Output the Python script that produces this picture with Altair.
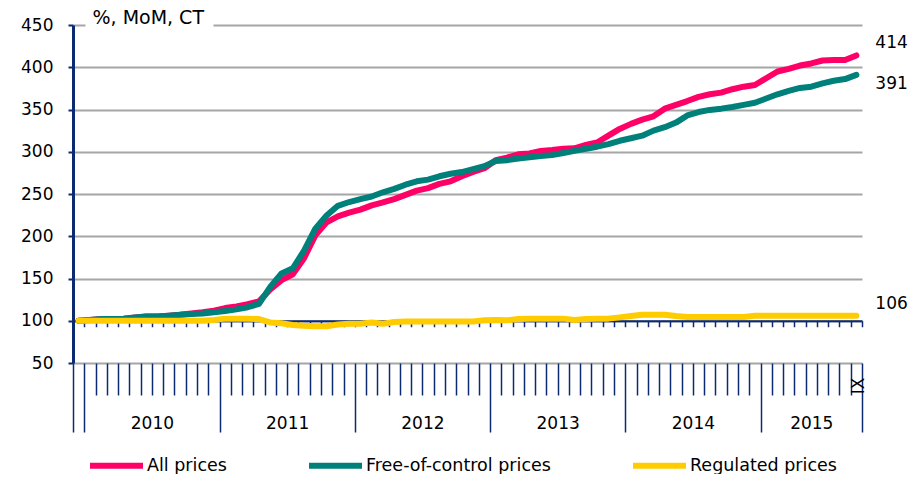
import altair as alt
import pandas as pd

# ---------------- data ----------------
months = ["2009-12"] + [f"{y}-{m:02d}" for y in range(2010, 2016) for m in range(1, 13)]
months = months[:months.index("2015-09") + 1]

all_prices = [100, 101, 102, 102, 102.5, 104, 105, 105, 106, 107, 108.5, 110,
              112, 115, 117, 119.5, 123, 137, 148, 155, 174, 201, 216.5, 223.5,
              228, 231.5, 236.5, 240, 244, 249, 254, 257, 262, 265, 271, 276,
              280.5, 290, 293, 297, 298, 301, 302, 303.5, 304, 308, 311, 319,
              327, 333, 338, 342, 351, 355.5, 360, 365, 368, 370, 374, 377,
              379, 387, 395, 398, 402, 404.5, 408, 408.5, 408.5, 414]

free_prices = [100, 101, 102, 102, 102.5, 104, 105, 105, 106, 107, 108, 108.5,
               110, 111.5, 113.5, 116, 120, 140, 156, 162, 183, 209, 224.5, 236,
               240.5, 244, 247, 252, 256, 261, 265, 267, 271, 274, 276, 279.5,
               283, 289, 290, 292, 293.5, 295, 296, 298.5, 301, 303.5, 306, 309,
               313, 316, 319, 325, 329, 334.5, 343, 347, 349.5, 351, 353, 355.5,
               358, 363, 368, 372, 375.5, 377, 381, 384, 386, 391]

regulated_prices = [100, 100, 100, 100, 100, 100, 100, 100, 100, 100, 100, 100,
                    101, 102.5, 102.5, 102.5, 102, 98, 97, 95, 94, 93.5, 93.5, 95.5,
                    96.5, 96.5, 98, 96.5, 98.5, 99, 99, 99, 99, 99, 99, 99,
                    100.5, 101, 100.5, 102, 102.5, 102.5, 102.5, 102.5, 101, 102, 102.5, 102.5,
                    104, 105.5, 107, 107, 107, 105.5, 104.5, 104.5, 104.5, 104.5, 104.5, 104.5,
                    106, 106, 106, 106, 106, 106, 106, 106, 106, 106]

series_names = ["All prices", "Free-of-control prices", "Regulated prices"]
series_colors = ["#FF0066", "#00807A", "#FFCC00"]
years = ["2010", "2011", "2012", "2013", "2014", "2015"]
last_month_label = "IX"
y_ticks = [50, 100, 150, 200, 250, 300, 350, 400, 450]
y_title = "%, MoM, CT"

# ---------------- tables ----------------
n = len(months)
rows = []
for name, vals in zip(series_names, [all_prices, free_prices, regulated_prices]):
    for i, (m, v) in enumerate(zip(months, vals)):
        rows.append({"month": m, "pos": i + 0.5, "series": name, "value": v})
df = pd.DataFrame(rows)
df_last = df[df["month"] == months[-1]]

year_starts = [months.index(f"{y}-01") for y in years]
year_ends = year_starts[1:] + [n]
year_mids = [(s + e) / 2 for s, e in zip(year_starts, year_ends)]
long_ticks = [0] + year_starts + [n]
year_expr = "".join(f"datum.value == {m} ? '{y}' : " for m, y in zip(year_mids, years)) + "''"

# ---------------- styling ----------------
FONT = "DejaVu Sans"
NAVY = "#0B2A6F"
GRID = "#A6A6A6"
W, H = 789, 338
ymin, ymax = 50, 450
off100 = -H * (100 - ymin) / (ymax - ymin)

xscale = alt.Scale(domain=[0, n], nice=False, zero=False)
yscale = alt.Scale(domain=[ymin, ymax], nice=False, zero=False)
cscale = alt.Scale(domain=series_names, range=series_colors)

legend = alt.Legend(title=None, orient="none", legendX=14, legendY=411,
                    direction="horizontal", columns=3, symbolType="stroke",
                    symbolStrokeWidth=6, symbolSize=2809, labelFontSize=17.5,
                    labelFont=FONT, labelColor="black", labelOffset=1, labelLimit=400,
                    columnPadding=70, padding=0)

y_axis = alt.Axis(values=y_ticks, orient="left", grid=True, gridColor=GRID, gridWidth=2,
                  gridDash={"condition": {"test": f"datum.value === {ymax}", "value": [12, 128, 2000]},
                            "value": []},
                  domainColor=NAVY, domainWidth=3, tickColor=NAVY, tickSize=5, tickWidth=2,
                  labelFontSize=17, labelFont=FONT, labelColor="black", labelPadding=15,
                  title=y_title, titleAngle=0, titleAlign="left", titleBaseline="alphabetic",
                  titleX=19, titleY=-2, titleFontSize=19, titleFont=FONT,
                  titleFontWeight="normal", titleColor="black")

axis_ticks = alt.Axis(values=list(range(0, n + 1)), orient="bottom",
                      tickSize={"condition": {"test": f"indexof({long_ticks}, datum.value) >= 0", "value": 69},
                                "value": 32},
                      tickColor=NAVY, tickWidth=1.5, labels=False, domain=False, grid=False, title=None)

axis_years = alt.Axis(values=year_mids, orient="bottom", ticks=False, tickSize=0, domain=False,
                      grid=False, labelExpr=year_expr, labelFontSize=17, labelFont=FONT,
                      labelColor="black", labelPadding=60, labelBaseline="middle",
                      labelOverlap=False, title=None)

axis_100 = alt.Axis(values=list(range(0, n + 1)), orient="bottom", offset=off100, tickSize=6,
                    tickColor=NAVY, tickWidth=1.5, domain=True, domainColor=NAVY, domainWidth=2,
                    labels=False, grid=False, title=None)

axis_ix = alt.Axis(values=[n - 0.5], orient="bottom", ticks=False, tickSize=0, domain=False,
                   grid=False, labelExpr=f"'{last_month_label}'", labelAngle=270,
                   labelAlign="right", labelBaseline="middle", labelPadding=14, labelOffset=2,
                   labelFontSize=17, labelFont=FONT, labelColor="black", title=None)

base = alt.Chart(df)


def line_layer(name, xaxis):
    return base.transform_filter(alt.datum.series == name).mark_line(
        strokeWidth=6, strokeCap="round", strokeJoin="round"
    ).encode(
        x=alt.X("pos:Q", scale=xscale, axis=xaxis),
        y=alt.Y("value:Q", scale=yscale, axis=y_axis),
        color=alt.Color("series:N", scale=cscale, legend=legend),
    )


pink = line_layer(series_names[0], axis_ticks)
teal = line_layer(series_names[1], axis_years)
yellow = line_layer(series_names[2], axis_100)

labels_above = alt.Chart(df_last).transform_filter(
    alt.FieldOneOfPredicate(field="series", oneOf=[series_names[0], series_names[2]])
).mark_text(align="left", baseline="middle", dx=19, dy=-12, fontSize=17, font=FONT, color="black").encode(
    x=alt.X("pos:Q", scale=xscale, axis=axis_ix),
    y=alt.Y("value:Q", scale=yscale, axis=y_axis),
    text=alt.Text("value:Q", format=".0f"),
)

labels_below = alt.Chart(df_last).transform_filter(
    alt.datum.series == series_names[1]
).mark_text(align="left", baseline="middle", dx=19, dy=9, fontSize=17, font=FONT, color="black").encode(
    x=alt.X("pos:Q", scale=xscale, axis=None),
    y=alt.Y("value:Q", scale=yscale, axis=y_axis),
    text=alt.Text("value:Q", format=".0f"),
)

chart = alt.layer(pink, teal, yellow, labels_above, labels_below).resolve_axis(
    x="independent"
).properties(
    width=W, height=H,
    autosize=alt.AutoSizeParams(type="none"),
    padding={"left": 65, "top": 17, "right": 47, "bottom": 111},
).configure(font=FONT).configure_view(stroke=None)

chart.save("out.html", embed_options={"renderer": "svg", "actions": False})
